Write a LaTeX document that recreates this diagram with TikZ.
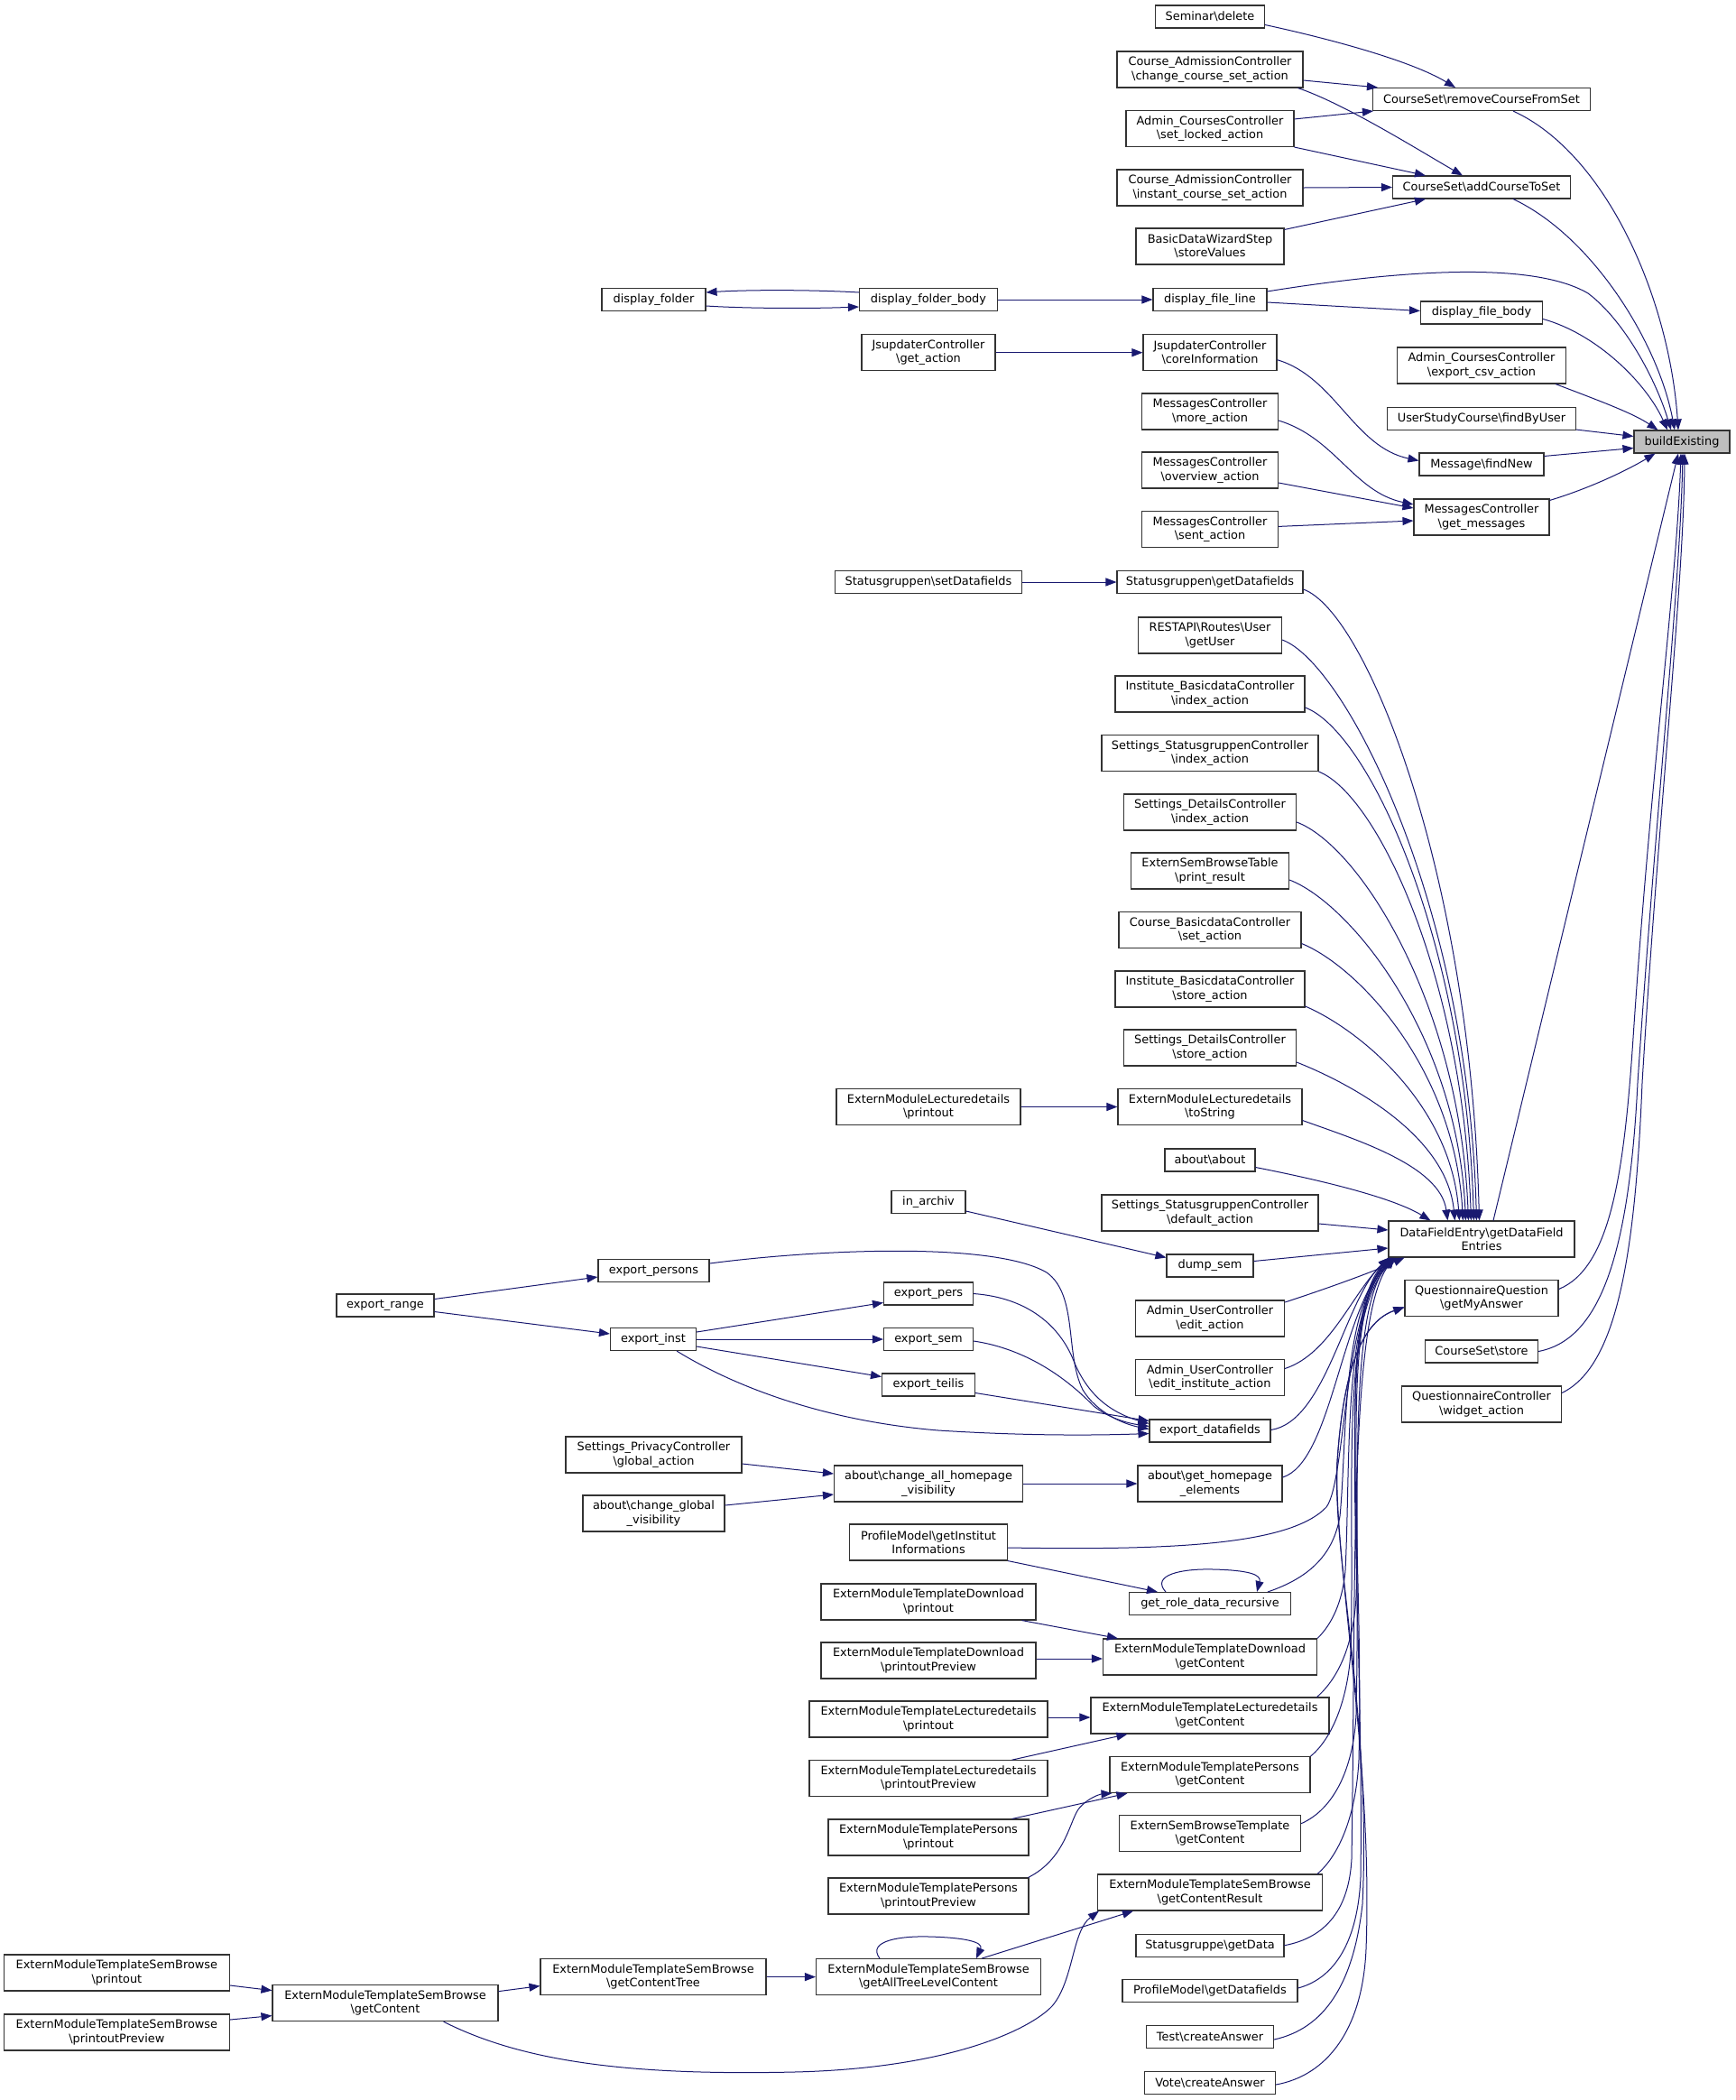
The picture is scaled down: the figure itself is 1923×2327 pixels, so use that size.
\documentclass[tikz,border=0pt]{standalone}
\usepackage{fontspec}
\setmainfont{DejaVu Sans}
\usetikzlibrary{arrows.meta,calc}
\definecolor{eb}{HTML}{191970}
\definecolor{bxc}{HTML}{333333}
\definecolor{rootfill}{HTML}{BFBFBF}
\newcommand{\bks}{\textbackslash}
\begin{document}
\begin{tikzpicture}[x=1pt,y=-1pt,
 nd/.style={draw=bxc, line width=1.1pt, fill=white, rectangle, inner sep=0pt, align=center, font=\fontsize{12.9}{15.3}\selectfont},
 n1/.style={nd, minimum height=25pt, minimum width=#1pt},
 n2/.style={nd, minimum height=40pt, minimum width=#1pt},
 e/.style={draw=eb, line width=1pt, -{Triangle[length=12pt,width=9pt]}},
]
\fill[white] (0,0) rectangle (1923,2327);
\useasboundingbox (0,0) rectangle (1923,2327);

% root
\node[n1=106, fill=rootfill] (be) at (1864,489.5) {buildExisting};
% column A
\node[n1=241] (rcs) at (1642,110) {CourseSet\bks removeCourseFromSet};
\node[n1=197] (acs) at (1642,207.5) {CourseSet\bks addCourseToSet};
\node[n1=135] (dfb) at (1642,346.5) {display\_file\_body};
\node[n2=187] (csv) at (1642,405) {Admin\_CoursesController\\\bks export\_csv\_action};
\node[n1=209] (fbu) at (1642,464) {UserStudyCourse\bks findByUser};
\node[n1=138] (fnw) at (1642,514.5) {Message\bks findNew};
\node[n2=150] (gms) at (1642,573) {MessagesController\\\bks get\_messages};
\node[n2=206] (dfe) at (1642,1373) {DataFieldEntry\bks getDataField\\Entries};
\node[n2=170] (gma) at (1642,1438.5) {QuestionnaireQuestion\\\bks getMyAnswer};
\node[n1=125] (css) at (1642,1497.5) {CourseSet\bks store};
\node[n2=177] (wid) at (1642,1556) {QuestionnaireController\\\bks widget\_action};
% column B
\node[n1=121] (sd) at (1341,18.5) {Seminar\bks delete};
\node[n2=206] (ccs) at (1341,77) {Course\_AdmissionController\\\bks change\_course\_set\_action};
\node[n2=186] (slk) at (1341,142.5) {Admin\_CoursesController\\\bks set\_locked\_action};
\node[n2=206] (ics) at (1341,208) {Course\_AdmissionController\\\bks instant\_course\_set\_action};
\node[n2=164] (bsv) at (1341,273) {BasicDataWizardStep\\\bks storeValues};
\node[n1=126] (dfl) at (1341,332) {display\_file\_line};
\node[n2=148] (cin) at (1341,390.7) {JsupdaterController\\\bks coreInformation};
\node[n2=151] (mor) at (1341,456) {MessagesController\\\bks more\_action};
\node[n2=151] (ovw) at (1341,521) {MessagesController\\\bks overview\_action};
\node[n2=151] (snt) at (1341,586.4) {MessagesController\\\bks sent\_action};
\node[n1=206] (sgd) at (1341,645) {Statusgruppen\bks getDatafields};
\node[n2=159] (gus) at (1341,704) {RESTAPI\bks Routes\bks User\\\bks getUser};
\node[n2=210] (ibi) at (1341,769) {Institute\_BasicdataController\\\bks index\_action};
\node[n2=240] (ssi) at (1341,834.5) {Settings\_StatusgruppenController\\\bks index\_action};
\node[n2=191] (sdi) at (1341,900) {Settings\_DetailsController\\\bks index\_action};
\node[n2=175] (pr) at (1341,965) {ExternSemBrowseTable\\\bks print\_result};
\node[n2=202] (cbs) at (1341,1030.5) {Course\_BasicdataController\\\bks set\_action};
\node[n2=210] (ibs) at (1341,1096) {Institute\_BasicdataController\\\bks store\_action};
\node[n2=191] (sds) at (1341,1161) {Settings\_DetailsController\\\bks store\_action};
\node[n2=204] (tos) at (1341,1226.5) {ExternModuleLecturedetails\\\bks toString};
\node[n1=100] (abt) at (1341,1285.5) {about\bks about};
\node[n2=240] (sda) at (1341,1344) {Settings\_StatusgruppenController\\\bks default\_action};
\node[n1=96] (dsm) at (1341,1402.5) {dump\_sem};
\node[n2=165] (eda) at (1341,1461) {Admin\_UserController\\\bks edit\_action};
\node[n2=165] (eia) at (1341,1526.5) {Admin\_UserController\\\bks edit\_institute\_action};
\node[n1=134] (edf) at (1341,1585.5) {export\_datafields};
\node[n2=160] (ghe) at (1341,1644) {about\bks get\_homepage\\\_elements};
\node[n1=179] (grd) at (1341,1777) {get\_role\_data\_recursive};
\node[n2=237] (tdg) at (1341,1836) {ExternModuleTemplateDownload\\\bks getContent};
\node[n2=264] (tlg) at (1341,1901) {ExternModuleTemplateLecturedetails\\\bks getContent};
\node[n2=222] (tpg) at (1341,1966.6) {ExternModuleTemplatePersons\\\bks getContent};
\node[n2=201] (sbt) at (1341,2031.7) {ExternSemBrowseTemplate\\\bks getContent};
\node[n2=249] (gcr) at (1341,2097) {ExternModuleTemplateSemBrowse\\\bks getContentResult};
\node[n1=164] (sgg) at (1341,2155.7) {Statusgruppe\bks getData};
\node[n1=194] (pgd) at (1341,2206) {ProfileModel\bks getDatafields};
\node[n1=141] (tca) at (1341,2257) {Test\bks createAnswer};
\node[n1=145] (vca) at (1341,2308) {Vote\bks createAnswer};
% column C
\node[n1=153] (dfo) at (1029,332) {display\_folder\_body};
\node[n2=148] (gac) at (1029,390.7) {JsupdaterController\\\bks get\_action};
\node[n1=207] (ssd) at (1029,645) {Statusgruppen\bks setDatafields};
\node[n2=204] (lpr) at (1029,1226.5) {ExternModuleLecturedetails\\\bks printout};
\node[n1=82] (iar) at (1029,1332) {in\_archiv};
\node[n1=99] (epr) at (1029,1433.5) {export\_pers};
\node[n1=99] (ese) at (1029,1484) {export\_sem};
\node[n1=103] (ete) at (1029,1534.5) {export\_teilis};
\node[n2=209] (cah) at (1029,1644) {about\bks change\_all\_homepage\\\_visibility};
\node[n2=175] (gii) at (1029,1709) {ProfileModel\bks getInstitut\\Informations};
\node[n2=238] (tdp) at (1029,1775) {ExternModuleTemplateDownload\\\bks printout};
\node[n2=238] (tdv) at (1029,1840) {ExternModuleTemplateDownload\\\bks printoutPreview};
\node[n2=264] (tlp) at (1029,1905) {ExternModuleTemplateLecturedetails\\\bks printout};
\node[n2=264] (tlv) at (1029,1970.7) {ExternModuleTemplateLecturedetails\\\bks printoutPreview};
\node[n2=222] (tpp) at (1029,2036) {ExternModuleTemplatePersons\\\bks printout};
\node[n2=222] (tpv) at (1029,2101) {ExternModuleTemplatePersons\\\bks printoutPreview};
\node[n2=249] (atl) at (1029,2190.6) {ExternModuleTemplateSemBrowse\\\bks getAllTreeLevelContent};
% column D
\node[n1=115] (dfd) at (724.5,332) {display\_folder};
\node[n1=123] (eps) at (724.5,1408) {export\_persons};
\node[n1=95] (ein) at (724,1484) {export\_inst};
\node[n2=195] (spg) at (724.5,1612) {Settings\_PrivacyController\\\bks global\_action};
\node[n2=157] (cgv) at (724.5,1677) {about\bks change\_global\\\_visibility};
\node[n2=250] (gct) at (724,2190.6) {ExternModuleTemplateSemBrowse\\\bks getContentTree};
% column E
\node[n1=108] (erg) at (427,1446.5) {export\_range};
\node[n2=250] (egc) at (427,2219.6) {ExternModuleTemplateSemBrowse\\\bks getContent};
% column F
\node[n2=250] (sbp) at (129.4,2186) {ExternModuleTemplateSemBrowse\\\bks printout};
\node[n2=250] (sbv) at (129.4,2252) {ExternModuleTemplateSemBrowse\\\bks printoutPreview};

% ---- edges to buildExisting
\draw[e] ($(rcs.south)+(35,0)$) .. controls (1780,170) and (1850,330) .. ($(be.north)+(-4,0)$);
\draw[e] ($(acs.south)+(35,0)$) .. controls (1765,262) and (1838,380) .. ($(be.north)+(-8,0)$);
\draw[e] ($(dfl.north east)+(0,4)$) .. controls (1560,298) and (1700,290) .. (1760,325) .. controls (1800,355) and (1835,420) .. ($(be.north)+(-12,0)$);
\draw[e] ($(dfb.east)+(0,7)$) .. controls (1770,370) and (1825,425) .. ($(be.north)+(-16,0)$);
\draw[e] ($(csv.south east)+(-12,0)$) .. controls (1775,445) and (1810,458) .. ($(be.north west)+(27,0)$);
\draw[e] ($(fbu.south east)+(0,-1)$) -- ($(be.west)+(0,-6)$);
\draw[e] ($(fnw.north east)+(0,4)$) -- ($(be.west)+(0,7)$);
\draw[e] ($(gms.north east)+(0,2)$) .. controls (1765,540) and (1805,520) .. ($(be.south west)+(24,0)$);
\draw[e] ($(dfe.north)+(13,0)$) -- ($(be.south)+(-4,0)$);
\draw[e] ($(gma.east)+(0,-10)$) .. controls (1785,1405) and (1800,1300) .. (1810,1150) .. controls (1830,850) and (1858,650) .. ($(be.south)+(-1,0)$);
\draw[e] (css.east) .. controls (1770,1485) and (1805,1400) .. (1815,1200) .. controls (1835,900) and (1862,650) .. ($(be.south)+(1,0)$);
\draw[e] ($(wid.north east)+(0,8)$) .. controls (1790,1515) and (1812,1400) .. (1820,1200) .. controls (1838,900) and (1866,650) .. ($(be.south)+(3,0)$);

% ---- to removeCourseFromSet / addCourseToSet
\draw[e] ($(sd.east)+(0,9)$) .. controls (1460,40) and (1560,65) .. ($(rcs.north)+(-29,0)$);
\draw[e] ($(ccs.east)+(0,12)$) -- ($(rcs.north west)+(6,0)$);
\draw[e] ($(slk.north east)+(0,10)$) -- ($(rcs.south west)+(1,0)$);
\draw[e] ($(ccs.south east)+(-6,0)$) .. controls (1490,115) and (1570,165) .. ($(acs.north)+(-21,0)$);
\draw[e] (slk.south east) -- ($(acs.north west)+(37,0)$);
\draw[e] (ics.east) -- (acs.west);
\draw[e] ($(bsv.north east)+(0,2)$) -- ($(acs.south west)+(37,0)$);

% ---- folder / file / messages
\draw[e] ($(dfo.west)+(0,-8)$) .. controls (900,321) and (830,321) .. ($(dfd.east)+(0,-8)$);
\draw[e] ($(dfd.east)+(0,7)$) .. controls (830,342) and (900,342) .. ($(dfo.west)+(0,8)$);
\draw[e] (dfo.east) -- (dfl.west);
\draw[e] ($(dfl.east)+(0,3)$) -- ($(dfb.west)+(0,-2)$);
\draw[e] (gac.east) -- (cin.west);
\draw[e] ($(cin.east)+(0,8)$) .. controls (1480,418) and (1500,495) .. ($(fnw.west)+(0,-4)$);
\draw[e] ($(mor.east)+(0,10)$) .. controls (1480,485) and (1500,545) .. ($(gms.west)+(0,-14)$);
\draw[e] ($(ovw.east)+(0,14)$) -- ($(gms.west)+(0,-10)$);
\draw[e] ($(snt.east)+(0,-3)$) -- ($(gms.west)+(0,4)$);

\draw[e] (ssd.east) -- (sgd.west);
\draw[e] (lpr.east) -- (tos.west);

% ---- long curves to DataFieldEntry top
\draw[e] ($(sgd.east)+(0,8)$) .. controls (1514,678) and (1630,968) .. ($(dfe.north west)+(101,0)$);
\draw[e] ($(gus.east)+(0,5)$) .. controls (1490,734) and (1627,999) .. ($(dfe.north west)+(98,0)$);
\draw[e] ($(ibi.east)+(0,15)$) .. controls (1516,810) and (1624,1040) .. ($(dfe.north west)+(95,0)$);
\draw[e] (ssi.south east) .. controls (1525,880) and (1621,1079) .. ($(dfe.north west)+(92,0)$);
\draw[e] ($(sdi.east)+(0,11)$) .. controls (1505,936) and (1618,1110) .. ($(dfe.north west)+(89,0)$);
\draw[e] ($(pr.east)+(0,10)$) .. controls (1495,1000) and (1615,1145) .. ($(dfe.north west)+(86,0)$);
\draw[e] ($(cbs.east)+(0,15)$) .. controls (1505,1071) and (1612,1184) .. ($(dfe.north west)+(83,0)$);
\draw[e] ($(ibs.east)+(0,19)$) .. controls (1505,1140) and (1608,1223) .. ($(dfe.north west)+(79,0)$);
\draw[e] ($(sds.east)+(0,16)$) .. controls (1495,1200) and (1603,1257) .. ($(dfe.north west)+(74,0)$);
\draw[e] ($(tos.east)+(0,15)$) .. controls (1500,1262) and (1596,1291) .. ($(dfe.north west)+(66,0)$);
\draw[e] ($(abt.east)+(0,8)$) .. controls (1450,1305) and (1540,1325) .. ($(dfe.north west)+(47,0)$);
\draw[e] ($(sda.east)+(0,12)$) -- ($(dfe.west)+(0,-10)$);
\draw[e] ($(dsm.east)+(0,-5)$) -- ($(dfe.west)+(0,10)$);
\draw[e] ($(iar.east)+(0,10)$) -- ($(dsm.west)+(0,-9)$);

% ---- bundle to DataFieldEntry bottom-left
\draw[e] ($(eda.east)+(0,-18)$) .. controls (1470,1428) and (1520,1410) .. ($(dfe.south west)+(18,0)$);
\draw[e] ($(eia.east)+(0,-10)$) .. controls (1475,1500) and (1500,1430) .. ($(dfe.south west)+(2,0)$);
\draw[e] ($(edf.east)+(0,-1)$) .. controls (1470,1575) and (1490,1440) .. ($(dfe.south west)+(1,0)$);
\draw[e] ($(ghe.east)+(0,-7)$) .. controls (1475,1620) and (1485,1460) .. ($(dfe.south west)+(3,0)$);
\draw[e] ($(gii.east)+(0,6)$) .. controls (1300,1718) and (1430,1712) .. (1470,1670) .. controls (1492,1640) and (1488,1455) .. ($(dfe.south west)+(5,0)$);
\draw[e] ($(grd.north east)+(-26,0)$) .. controls (1452,1748) and (1478,1722) .. (1485,1680) .. controls (1493,1600) and (1486,1455) .. ($(dfe.south west)+(4,0)$);
\draw[e] (tdg.north east) .. controls (1476,1800) and (1488,1775) .. (1491,1740) .. controls (1497,1620) and (1488,1455) .. ($(dfe.south west)+(6,0)$);
\draw[e] ($(tlg.north east)+(-14,0)$) .. controls (1485,1858) and (1500,1820) .. (1503,1770) .. controls (1507,1640) and (1490,1455) .. ($(dfe.south west)+(2,0)$);
\draw[e] (tpg.north east) .. controls (1478,1925) and (1494,1880) .. (1497,1830) .. controls (1502,1650) and (1484,1460) .. ($(dfe.south west)+(8,0)$);
\draw[e] ($(sbt.east)+(0,-11)$) .. controls (1478,2005) and (1500,1960) .. (1503,1900) .. controls (1508,1680) and (1492,1460) .. ($(dfe.south west)+(5,0)$);
\draw[e] ($(gcr.north east)+(-6,0)$) .. controls (1485,2055) and (1503,2010) .. (1506,1950) .. controls (1512,1700) and (1480,1460) .. ($(dfe.south west)+(1,0)$);
\draw[e] (sgg.east) .. controls (1470,2147) and (1495,2115) .. (1498,2060) .. controls (1503,1750) and (1495,1460) .. ($(dfe.south west)+(7,0)$);
\draw[e] ($(pgd.east)+(0,-3)$) .. controls (1480,2192) and (1505,2150) .. (1508,2080) .. controls (1512,1750) and (1478,1460) .. ($(dfe.south west)+(3,0)$);
% to getMyAnswer
\draw[e] ($(tca.east)+(0,3)$) .. controls (1467,2248) and (1500,2200) .. (1510,2110) .. controls (1520,1900) and (1476,1720) .. (1482,1620) .. controls (1488,1530) and (1505,1466) .. ($(gma.west)+(0,10)$);
\draw[e] ($(vca.east)+(0,2)$) .. controls (1470,2300) and (1510,2250) .. (1514,2160) .. controls (1522,1950) and (1478,1730) .. (1482,1620) .. controls (1488,1530) and (1505,1466) .. ($(gma.west)+(0,10)$);

% ---- export functions
\draw[e] ($(eps.east)+(0,-8)$) .. controls (900,1385) and (1100,1375) .. (1160,1410) .. controls (1195,1435) and (1180,1500) .. (1200,1540) .. controls (1215,1565) and (1245,1578) .. ($(edf.west)+(0,-2)$);
\draw[e] (epr.east) .. controls (1140,1438) and (1175,1470) .. (1190,1508) .. controls (1205,1545) and (1230,1565) .. ($(edf.west)+(0,-8)$);
\draw[e] ($(ese.east)+(0,2)$) .. controls (1140,1495) and (1185,1530) .. (1212,1558) .. controls (1230,1572) and (1250,1577) .. ($(edf.west)+(0,-5)$);
\draw[e] ($(ete.east)+(0,9)$) -- ($(edf.west)+(0,-11)$);
\draw[e] ($(ein.south east)+(-22,0)$) .. controls (820,1540) and (920,1575) .. (1040,1585) .. controls (1150,1592) and (1230,1590) .. ($(edf.west)+(0,3)$);
\draw[e] ($(ein.east)+(0,-8)$) -- ($(epr.west)+(0,10)$);
\draw[e] (ein.east) -- (ese.west);
\draw[e] ($(ein.east)+(0,8)$) -- ($(ete.west)+(0,-9)$);
\draw[e] ($(erg.east)+(0,-7)$) -- ($(eps.west)+(0,7)$);
\draw[e] ($(erg.east)+(0,7)$) -- ($(ein.west)+(0,-6)$);

% ---- homepage / role data
\draw[e] ($(spg.east)+(0,10)$) -- ($(cah.west)+(0,-11)$);
\draw[e] ($(cgv.east)+(0,-9)$) -- ($(cah.west)+(0,12)$);
\draw[e] (cah.east) -- (ghe.west);
\draw[e] (gii.south east) -- ($(grd.north west)+(32,0)$);
\draw[e] ($(grd.north west)+(41,0)$) .. controls (1275,1745) and (1310,1738) .. (1345,1739) .. controls (1385,1740) and (1398,1745) .. ($(grd.north east)+(-38,0)$);

% ---- templates
\draw[e] ($(tdp.south east)+(-16,0)$) -- ($(tdg.north west)+(17,0)$);
\draw[e] ($(tdv.east)+(0,-2)$) -- ($(tdg.west)+(0,2)$);
\draw[e] ($(tlp.east)+(0,-2)$) -- ($(tlg.west)+(0,2)$);
\draw[e] ($(tlv.north east)+(-40,0)$) -- ($(tlg.south west)+(41,0)$);
\draw[e] ($(tpp.north east)+(-19,0)$) -- ($(tpg.south west)+(20,0)$);
\draw[e] ($(tpv.north east)+(-1,0)$) .. controls (1180,2060) and (1185,2020) .. (1195,2005) .. controls (1205,1992) and (1220,1988) .. ($(tpg.south west)+(3,0)$);
\draw[e] ($(atl.north east)+(-66,0)$) -- ($(gcr.south west)+(40,0)$);
\draw[e] ($(atl.north west)+(71,0)$) .. controls (960,2150) and (1000,2145) .. (1030,2146) .. controls (1070,2147) and (1090,2152) .. ($(atl.north west)+(178,0)$);
\draw[e] ($(egc.south east)+(-61,0)$) .. controls (580,2285) and (700,2300) .. (880,2296) .. controls (1050,2292) and (1140,2250) .. (1166,2223) .. controls (1190,2195) and (1188,2140) .. ($(gcr.south west)+(2,0)$);
\draw[e] ($(egc.east)+(0,-13)$) -- ($(gct.west)+(0,10)$);
\draw[e] (gct.east) -- (atl.west);
\draw[e] ($(sbp.east)+(0,14)$) -- ($(egc.west)+(0,-14)$);
\draw[e] ($(sbv.east)+(0,-14)$) -- ($(egc.west)+(0,14)$);
\end{tikzpicture}
\end{document}
